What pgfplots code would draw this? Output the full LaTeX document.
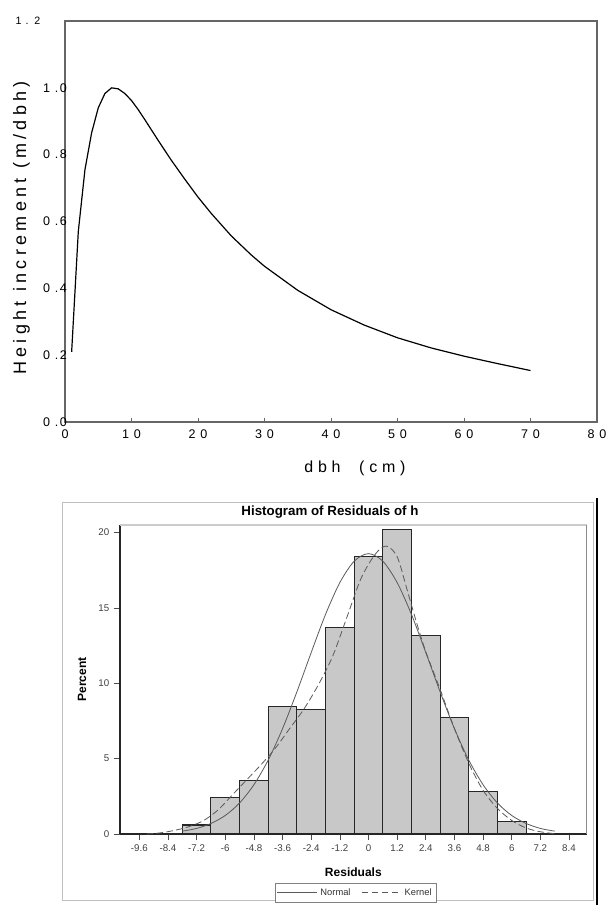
\documentclass[border=0pt]{standalone}
\usepackage{pgfplots}
\pgfplotsset{compat=1.18}
\usepackage{fontspec}
\setmainfont{Liberation Sans}
\newfontfamily\labfont[LetterSpace=24]{Liberation Sans}
\newfontfamily\xlabfont[LetterSpace=30]{Liberation Sans}
\newfontfamily\tickfont[LetterSpace=12]{Liberation Sans}
\definecolor{axgray}{HTML}{666666}
\definecolor{barfill}{HTML}{C8C8C8}
\definecolor{curvegray}{HTML}{5A5A5A}
\begin{document}
\begin{tikzpicture}
\useasboundingbox (0,0) rectangle (456pt,-678.75pt);
% ---------------- top chart ----------------
\begin{axis}[
  at={(48.75pt,-316.5pt)}, anchor=south west,
  scale only axis, width=399pt, height=300.75pt,
  xmin=0, xmax=80, ymin=0, ymax=1.2,
  axis line style={draw=axgray, line width=0.9pt},
  xtick={0,10,20,30,40,50,60,70,80},
  xticklabels={0,1 0,2 0,3 0,4 0,5 0,6 0,7 0,8 0},
  ytick={0,0.2,0.4,0.6,0.8,1.0},
  yticklabels={0 .0,0 .2,0 .4,0 .6,0 .8,1 .0},
  extra y ticks={1.2},
  extra y tick labels={1 . 2},
  extra y tick style={yticklabel style={xshift=-20pt, font=\tickfont\fontsize{8}{9}\selectfont}},
  tick align=inside,
  xtick pos=bottom,
  xtick style={draw=axgray, line width=0.7pt},
  ytick style={draw=none},
  major tick length=3pt,
  xticklabel style={font=\tickfont\fontsize{9.4}{11}\selectfont, yshift=-2pt},
  yticklabel style={font=\tickfont\fontsize{9.4}{11}\selectfont, anchor=east, xshift=5pt},
  xlabel={dbh\ \ (cm)},
  ylabel={Height increment (m/dbh)},
  every axis x label/.style={at={(axis description cs:0.545,0)}, anchor=base, yshift=-38pt, font=\xlabfont\fontsize{12}{14}\selectfont},
  every axis y label/.style={at={(axis description cs:-0.082,0.484)}, rotate=90, anchor=center, font=\labfont\fontsize{13.5}{16}\selectfont},
  clip=false,
]
\addplot[black, line width=0.9pt] coordinates {
(1,0.21) (2,0.57) (3,0.755) (4,0.865) (5,0.94) (6,0.983) (7,1.0) (8,0.997)
(9,0.983) (10,0.962) (11,0.935) (12,0.905) (14,0.843) (16,0.783) (18,0.727)
(20,0.673) (22,0.624) (25,0.557) (28,0.5) (30,0.466) (35,0.394) (40,0.336)
(45,0.29) (50,0.252) (55,0.222) (60,0.197) (65,0.175) (70,0.154)
};
\end{axis}
% ---------------- histogram ----------------
\draw[black!25, line width=0.6pt] (46.5pt,-376.5pt) rectangle (444.75pt,-675pt);
\begin{axis}[
  at={(90pt,-625.5pt)}, anchor=south west,
  scale only axis, width=350pt, height=231.75pt,
  xmin=-10.41, xmax=9.14, ymin=0, ymax=20.5,
  axis x line*=bottom, axis y line*=left,
  axis line style={draw=black!85, line width=0.8pt, -},
  xtick={-9.6,-8.4,-7.2,-6,-4.8,-3.6,-2.4,-1.2,0,1.2,2.4,3.6,4.8,6,7.2,8.4},
  xticklabels={-9.6,-8.4,-7.2,-6,-4.8,-3.6,-2.4,-1.2,0,1.2,2.4,3.6,4.8,6,7.2,8.4},
  ytick={0,5,10,15,20},
  yticklabels={0,5,10,15,20},
  tick align=outside, major tick length=4.5pt,
  tick style={draw=black!70, line width=0.5pt},
  ticklabel style={font=\fontsize{7.3}{8}\selectfont, text=black!75},
  xlabel={Residuals}, ylabel={Percent},
  every axis x label/.style={at={(axis description cs:0.5,0)}, anchor=center, yshift=-28.5pt, font=\bfseries\fontsize{9}{10}\selectfont},
  every axis y label/.style={at={(axis description cs:-0.0814,0.5)}, rotate=90, anchor=center, font=\bfseries\fontsize{9}{10}\selectfont},
  legend columns=2,
  legend style={at={(0.505,-0.16)}, anchor=north, draw=black!50, line width=0.4pt,
    font=\fontsize{7}{8}\selectfont, text=black!80, inner sep=1.5pt,
    /tikz/every even column/.append style={column sep=6pt}},
  legend image code/.code={\draw[#1] (0pt,0pt) -- (30pt,0pt);},
  clip=false,
]
\draw[black!20, line width=0.8pt] (rel axis cs:0,1) -- (rel axis cs:1,1);
\draw[black!45, line width=0.8pt] (rel axis cs:1,1) -- (rel axis cs:1,0);
\addplot[ybar, bar width=1.2, bar shift=0pt, fill=barfill, draw=black!85, line width=0.8pt, forget plot] coordinates {
(-7.2,0.6) (-6.0,2.45) (-4.8,3.55) (-3.6,8.45) (-2.4,8.25) (-1.2,13.7)
(0,18.4) (1.2,20.2) (2.4,13.2) (3.6,7.75) (4.8,2.8) (6.0,0.8)
};
\addplot[smooth, curvegray, line width=0.6pt] coordinates {
(-7.8,0.19) (-7.2,0.37) (-6.6,0.70) (-6.0,1.23) (-5.4,2.06) (-4.8,3.27) (-4.2,4.91)
(-3.6,6.99) (-3.0,9.43) (-2.4,12.04) (-1.8,14.57) (-1.2,16.68) (-0.6,18.10) (0,18.6)
(0.6,18.10) (1.2,16.68) (1.8,14.57) (2.4,12.04) (3.0,9.43) (3.6,6.99) (4.2,4.91)
(4.8,3.27) (5.4,2.06) (6.0,1.23) (6.6,0.70) (7.2,0.37) (7.8,0.19)
};
\addlegendentry{Normal}
\addplot[smooth, curvegray, line width=0.6pt, dash pattern=on 5pt off 2.5pt] coordinates {
(-9.3,0.0) (-8.7,0.08) (-8.1,0.25) (-7.5,0.5) (-6.9,0.9) (-6.3,1.6) (-5.7,2.6)
(-5.1,3.6) (-4.5,4.6) (-3.9,5.7) (-3.3,7.0) (-2.7,8.3) (-2.1,9.9) (-1.5,11.8)
(-0.9,14.4) (-0.3,17.0) (0.3,18.6) (0.75,19.1) (1.2,18.4) (1.6,16.3) (2.0,14.1)
(2.4,12.1) (3.0,9.6) (3.6,7.0) (4.2,4.7) (4.8,2.9) (5.4,1.7) (6.0,0.9) (6.6,0.4)
(7.2,0.15) (7.8,0.02)
};
\addlegendentry{Kernel}
\end{axis}
\draw[black, line width=1.6pt] (447.75pt,-373.5pt) -- (447.75pt,-678.75pt);
\node[font=\bfseries\fontsize{10}{12}\selectfont] at (247.5pt,-384pt) {Histogram of Residuals of h};
\end{tikzpicture}
\end{document}
